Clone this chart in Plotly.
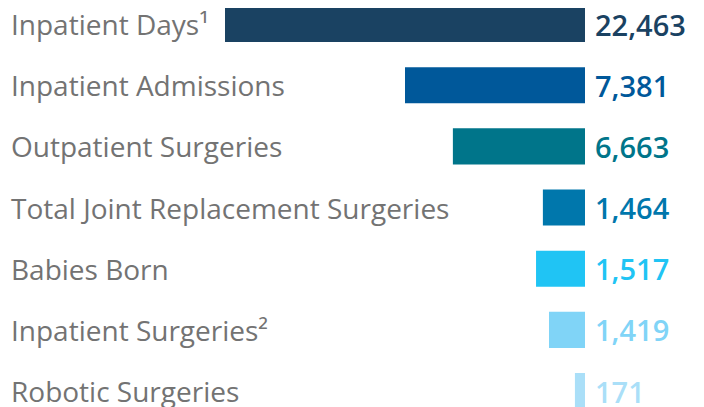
import plotly.graph_objects as go

categories = ["Inpatient Days¹", "Inpatient Admissions", "Outpatient Surgeries",
              "Total Joint Replacement Surgeries", "Babies Born",
              "Inpatient Surgeries²", "Robotic Surgeries"]
values = [22463, 7381, 6663, 1464, 1517, 1419, 171]
# relative bar lengths as drawn in the infographic (longest = 100)
bar_lengths = [100, 50, 36.7, 11.7, 13.6, 10, 2.8]
colors = ["#1a4262", "#00589a", "#00758a", "#0077ac", "#20c4f4", "#80d4f7", "#aadff8"]

W, H = 696, 399  # page body has an 8px margin
fig = go.Figure()
fig.add_trace(go.Bar(
    y=list(range(len(categories))), x=bar_lengths, orientation="h",
    marker=dict(color=colors, line=dict(width=0)), width=0.59,
    hoverinfo="skip", showlegend=False,
))

ann = []
for i, (c, v, col) in enumerate(zip(categories, values, colors)):
    ann.append(dict(xref="paper", yref="y", x=1 / W, y=i, text=c, showarrow=False,
                    xanchor="left", yanchor="middle",
                    font=dict(family="Open Sans", size=28, color="#737373", weight=400)))
    ann.append(dict(xref="paper", yref="y", x=585 / W, y=i, text=f"{v:,}", showarrow=False,
                    xanchor="left", yanchor="middle",
                    font=dict(family="Open Sans", size=29, color=col, weight=600)))

fig.update_layout(
    width=W, height=H, margin=dict(l=0, r=0, t=0, b=0),
    paper_bgcolor="white", plot_bgcolor="white",
    xaxis=dict(domain=[217 / W, 577 / W], range=[100, 0], visible=False, fixedrange=True),
    yaxis=dict(range=[6.261, -0.2616], visible=False, fixedrange=True),
    annotations=ann,
)
fig.write_html("out.html")
